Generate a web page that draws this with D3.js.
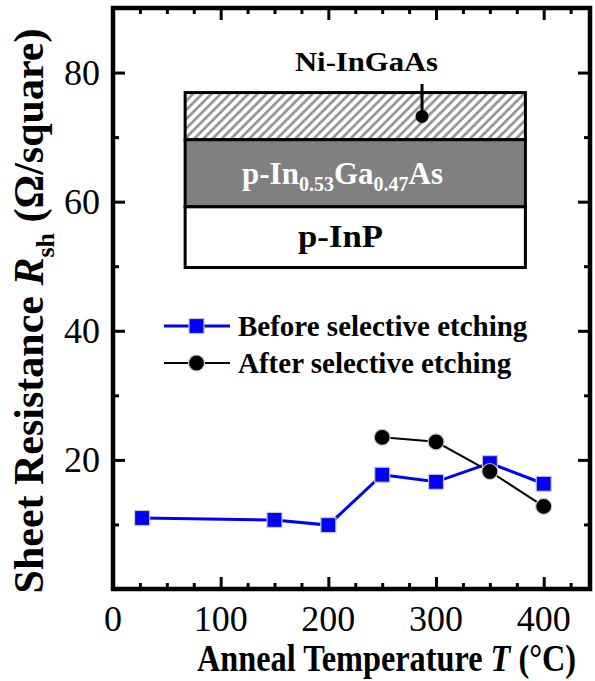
<!DOCTYPE html>
<html>
<head>
<meta charset="utf-8">
<script src="https://cdn.jsdelivr.net/npm/d3@7"></script>
<style>
  body { margin: 0; background: #fff; }
</style>
</head>
<body>
<div id="chart"></div>
<script>
var width = 595;
var height = 681;

// data
var tempBefore = [27, 150, 200, 250, 300, 350, 400];
var rshBefore = [11.0, 10.7, 9.9, 17.7, 16.6, 19.5, 16.3];
var tempAfter = [250, 300, 350, 400];
var rshAfter = [23.5, 22.8, 18.2, 12.8];

var xTicks = [0, 100, 200, 300, 400];
var yTicks = [20, 40, 60, 80];

// inset layer stack (in axis units)
var insetX = [67, 383];
var layerTops = [76.9, 69.6, 59.2];
var layerBottom = 49.8;

var margin = {left: 113, right: 5, top: 8, bottom: 92};
var serif = "Liberation Serif";

var x = d3.scaleLinear().domain([0, 443]).range([margin.left, width - margin.right]);
var y = d3.scaleLinear().domain([0, 90]).range([height - margin.bottom, margin.top]);

var svg = d3.select("#chart").append("svg")
  .attr("width", width)
  .attr("height", height);

var defs = svg.append("defs");
var hatch = defs.append("pattern")
  .attr("id", "hatch")
  .attr("patternUnits", "userSpaceOnUse")
  .attr("width", 6.5)
  .attr("height", 6.5)
  .attr("patternTransform", "rotate(45)");
hatch.append("rect").attr("width", 6.5).attr("height", 6.5).attr("fill", "#fff");
hatch.append("rect").attr("width", 2.8).attr("height", 6.5).attr("fill", "#999");

// inset schematic
var inset = svg.append("g");
var layers = [
  {top: layerTops[0], bottom: layerTops[1], fill: "url(#hatch)"},
  {top: layerTops[1], bottom: layerTops[2], fill: "#808080"},
  {top: layerTops[2], bottom: layerBottom, fill: "#fff"}
];
inset.selectAll(".layer")
  .data(layers)
  .enter().append("rect")
  .attr("class", "layer")
  .attr("x", x(insetX[0]))
  .attr("width", x(insetX[1]) - x(insetX[0]))
  .attr("y", function(d) { return y(d.top); })
  .attr("height", function(d) { return y(d.bottom) - y(d.top); })
  .attr("fill", function(d) { return d.fill; })
  .attr("stroke", "#000")
  .attr("stroke-width", 3);

inset.append("text")
  .attr("x", 295)
  .attr("y", 71)
  .attr("font-family", serif)
  .attr("font-weight", "bold")
  .attr("font-size", 27)
  .attr("textLength", 143)
  .attr("lengthAdjust", "spacingAndGlyphs")
  .text("Ni-InGaAs");
inset.append("line")
  .attr("x1", x(287)).attr("x2", x(287))
  .attr("y1", 84).attr("y2", y(73.2))
  .attr("stroke", "#000").attr("stroke-width", 3);
inset.append("circle")
  .attr("cx", x(287)).attr("cy", y(73.2)).attr("r", 6.5).attr("fill", "#000");

var t2 = inset.append("text")
  .attr("x", 242)
  .attr("y", y((layerTops[1] + layerTops[2]) / 2) + 11)
  .attr("font-family", serif)
  .attr("font-weight", "bold")
  .attr("font-size", 31)
  .attr("fill", "#fff");
t2.append("tspan").text("p-In");
t2.append("tspan").attr("font-size", 20).attr("dy", 7).text("0.53");
t2.append("tspan").attr("dy", -7).text("Ga");
t2.append("tspan").attr("font-size", 20).attr("dy", 7).text("0.47");
t2.append("tspan").attr("dy", -7).text("As");

inset.append("text")
  .attr("x", 298)
  .attr("y", y((layerTops[2] + layerBottom) / 2) + 10)
  .attr("font-family", serif)
  .attr("font-weight", "bold")
  .attr("font-size", 32)
  .attr("textLength", 85)
  .attr("lengthAdjust", "spacingAndGlyphs")
  .text("p-InP");

// axes: inward ticks on all four sides
var xMinor = d3.range(0, 443, 25);
var yMinor = d3.range(0, 91, 10);

var gx = svg.append("g").attr("transform", "translate(0," + y(0) + ")")
  .call(d3.axisBottom(x).tickValues(xMinor).tickSize(-6).tickFormat(""));
gx.selectAll(".tick line").filter(function(d) { return d % 100 === 0; }).attr("y2", -12);

var gxt = svg.append("g").attr("transform", "translate(0," + y(90) + ")")
  .call(d3.axisTop(x).tickValues(xMinor).tickSize(-6).tickFormat(""));
gxt.selectAll(".tick line").filter(function(d) { return d % 100 === 0; }).attr("y2", 12);

var gy = svg.append("g").attr("transform", "translate(" + x(0) + ",0)")
  .call(d3.axisLeft(y).tickValues(yMinor).tickSize(-6).tickFormat(""));
gy.selectAll(".tick line").filter(function(d) { return d % 20 === 0; }).attr("x2", 12);

var gyr = svg.append("g").attr("transform", "translate(" + x(443) + ",0)")
  .call(d3.axisRight(y).tickValues(yMinor).tickSize(-6).tickFormat(""));
gyr.selectAll(".tick line").filter(function(d) { return d % 20 === 0; }).attr("x2", -12);

svg.selectAll(".tick line").attr("stroke-width", 3);
svg.selectAll(".domain").remove();

svg.append("rect")
  .attr("x", x(0)).attr("y", y(90))
  .attr("width", x(443) - x(0)).attr("height", y(0) - y(90))
  .attr("fill", "none").attr("stroke", "#000").attr("stroke-width", 4.5);

// tick labels
svg.selectAll(".xlab")
  .data(xTicks)
  .enter().append("text")
  .attr("class", "xlab")
  .attr("x", function(d) { return x(d); })
  .attr("y", y(0) + 42)
  .attr("text-anchor", "middle")
  .attr("font-family", serif)
  .attr("font-size", 36)
  .text(function(d) { return d; });

svg.selectAll(".ylab")
  .data(yTicks)
  .enter().append("text")
  .attr("class", "ylab")
  .attr("x", x(0) - 13)
  .attr("y", function(d) { return y(d) + 12; })
  .attr("text-anchor", "end")
  .attr("font-family", serif)
  .attr("font-size", 36)
  .text(function(d) { return d; });

// axis titles
var xt = svg.append("text")
  .attr("transform", "translate(197,671) scale(0.85,1)")
  .attr("font-family", serif)
  .attr("font-weight", "bold")
  .attr("font-size", 38);
xt.append("tspan").text("Anneal Temperature ");
xt.append("tspan").attr("font-style", "italic").text("T");
xt.append("tspan").text(" (°C)");

var yt = svg.append("text")
  .attr("transform", "translate(43,311) rotate(-90)")
  .attr("text-anchor", "middle")
  .attr("font-family", serif)
  .attr("font-weight", "bold")
  .attr("font-size", 42);
yt.append("tspan").text("Sheet Resistance ");
yt.append("tspan").attr("font-style", "italic").text("R");
yt.append("tspan").attr("font-size", 26).attr("dy", 11).text("sh");
yt.append("tspan").attr("dy", -11).text("  (Ω/square)");

// series
var line = d3.line()
  .x(function(d) { return x(d[0]); })
  .y(function(d) { return y(d[1]); });

var before = d3.zip(tempBefore, rshBefore);
var after = d3.zip(tempAfter, rshAfter);

svg.append("path")
  .datum(before)
  .attr("d", line)
  .attr("fill", "none")
  .attr("stroke", "#0000ff")
  .attr("stroke-width", 3);

svg.append("path")
  .datum(after)
  .attr("d", line)
  .attr("fill", "none")
  .attr("stroke", "#000")
  .attr("stroke-width", 2);

svg.selectAll(".sq")
  .data(before)
  .enter().append("rect")
  .attr("class", "sq")
  .attr("x", function(d) { return x(d[0]) - 7.5; })
  .attr("y", function(d) { return y(d[1]) - 7.5; })
  .attr("width", 15).attr("height", 15)
  .attr("fill", "#0000ff")
  .attr("stroke", "#c8c8c8")
  .attr("stroke-width", 1.2);

svg.selectAll(".dot")
  .data(after)
  .enter().append("circle")
  .attr("class", "dot")
  .attr("cx", function(d) { return x(d[0]); })
  .attr("cy", function(d) { return y(d[1]); })
  .attr("r", 8)
  .attr("fill", "#000")
  .attr("stroke", "#c8c8c8")
  .attr("stroke-width", 1.2);

// legend
var legendItems = [
  {label: "Before selective etching", color: "#0000ff", width: 3, shape: "square"},
  {label: "After selective etching", color: "#000", width: 2, shape: "circle"}
];
var legend = svg.selectAll(".legend")
  .data(legendItems)
  .enter().append("g")
  .attr("class", "legend")
  .attr("transform", function(d, i) { return "translate(164," + (326 + i * 37) + ")"; });

legend.append("line")
  .attr("x1", 0).attr("x2", 66)
  .attr("stroke", function(d) { return d.color; })
  .attr("stroke-width", function(d) { return d.width; });
legend.filter(function(d) { return d.shape === "square"; }).append("rect")
  .attr("x", 25).attr("y", -7.5).attr("width", 15).attr("height", 15)
  .attr("fill", "#0000ff").attr("stroke", "#c8c8c8").attr("stroke-width", 1.2);
legend.filter(function(d) { return d.shape === "circle"; }).append("circle")
  .attr("cx", 32.5).attr("r", 8)
  .attr("fill", "#000").attr("stroke", "#c8c8c8").attr("stroke-width", 1.2);
legend.append("text")
  .attr("x", 74).attr("y", 10)
  .attr("font-family", serif)
  .attr("font-weight", "bold")
  .attr("font-size", 29)
  .text(function(d) { return d.label; });
</script>
</body>
</html>
